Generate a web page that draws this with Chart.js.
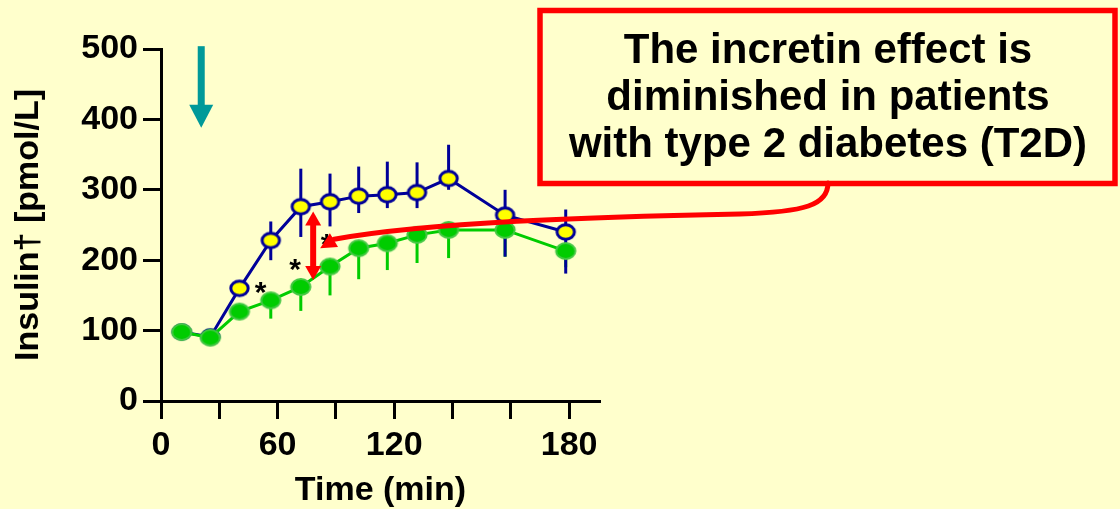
<!DOCTYPE html>
<html>
<head>
<meta charset="utf-8">
<script src="https://cdn.jsdelivr.net/npm/chart.js@4"></script>
<style>
  html, body { margin: 0; padding: 0; background: #ffffcc; }
  #wrap { width: 1120px; height: 509px; }
</style>
</head>
<body>
<div id="wrap"><canvas id="insulin-chart" width="1120" height="509"></canvas></div>
<script>
// posicion de cada muestra sobre el eje de tiempo (en intervalos de marca; el eje original no esta a escala)
const sampleX = [0.355, 0.846, 1.346, 1.883, 2.398, 2.899, 3.391, 3.882, 4.392, 4.933, 5.902, 6.942];

// glucosa oral (circulos amarillos)
const oralInsulin = [98, 91, 160, 228, 276, 283, 291, 293, 296, 316, 264, 240];
const oralHigh = [98, 91, 166, 255, 330, 323, 333, 340, 339, 364, 300, 272];
const oralLow = [98, 91, 154, 200, 233, 248, 267, 274, 274, 300, 205, 181];

// glucosa intravenosa (circulos verdes)
const ivInsulin = [98, 90, 127, 143, 162, 191, 217, 224, 236, 243, 243, 213];
const ivLow = [98, 90, 120, 117, 128, 150, 173, 186, 196, 203, 205, 190];

// marcas de los ejes
const xTickPos = [0, 1, 2, 3, 4, 5, 6, 7];
const xTickLabels = ['0', '', '60', '', '120', '', '', '180'];
const yTicks = [0, 100, 200, 300, 400, 500];

// asteriscos de significancia
const starX = [1.71, 2.30, 2.84];
const starY = [165, 198, 233];

const boxLines = ['The incretin effect is', 'diminished in patients', 'with type 2 diabetes (T2D)'];

const NAVY = '#000099';
const GREEN = '#00cc00';
const RED = '#ff0000';
const FONT = 'Arial, "Liberation Sans", sans-serif';

// marcador eliptico (el circulo de Chart.js es redondo)
function ellipseMarker(rx, ry, fill, stroke, lw) {
  const c = document.createElement('canvas');
  c.width = Math.ceil(rx * 2 + lw + 2);
  c.height = Math.ceil(ry * 2 + lw + 2);
  const ctx = c.getContext('2d');
  ctx.beginPath();
  ctx.ellipse(c.width / 2, c.height / 2, rx, ry, 0, 0, Math.PI * 2);
  ctx.fillStyle = fill;
  ctx.fill();
  ctx.lineWidth = lw;
  ctx.strokeStyle = stroke;
  ctx.stroke();
  return c;
}

const yellowDot = ellipseMarker(8.7, 7.2, '#ffff00', NAVY, 3);
const greenDot = ellipseMarker(9.6, 7.9, GREEN, '#44c844', 2);

function toPoints(ys) {
  return sampleX.map(function(x, i) { return { x: x, y: ys[i] }; });
}

function arrowHead(ctx, tipX, tipY, angle, len, half) {
  ctx.save();
  ctx.translate(tipX, tipY);
  ctx.rotate(angle);
  ctx.beginPath();
  ctx.moveTo(0, 0);
  ctx.lineTo(-len, -half);
  ctx.lineTo(-len, half);
  ctx.closePath();
  ctx.fill();
  ctx.restore();
}

const overlay = {
  id: 'overlay',
  beforeDatasetsDraw(chart) {
    const ctx = chart.ctx;
    const xs = chart.scales.x, ys = chart.scales.y;
    ctx.save();
    ctx.lineWidth = 3;
    // barras de error de la curva verde (solo hacia abajo)
    ctx.strokeStyle = GREEN;
    sampleX.forEach(function(x, i) {
      const px = xs.getPixelForValue(x);
      ctx.beginPath();
      ctx.moveTo(px, ys.getPixelForValue(ivInsulin[i]));
      ctx.lineTo(px, ys.getPixelForValue(ivLow[i]));
      ctx.stroke();
    });
    // barras de error de la curva azul
    ctx.strokeStyle = NAVY;
    sampleX.forEach(function(x, i) {
      const px = xs.getPixelForValue(x);
      ctx.beginPath();
      ctx.moveTo(px, ys.getPixelForValue(oralHigh[i]));
      ctx.lineTo(px, ys.getPixelForValue(oralLow[i]));
      ctx.stroke();
    });
    ctx.restore();
  },
  afterDatasetsDraw(chart) {
    const ctx = chart.ctx;
    const xs = chart.scales.x, ys = chart.scales.y;
    ctx.save();

    // asteriscos
    ctx.fillStyle = '#000';
    ctx.font = 'bold 30px ' + FONT;
    ctx.textAlign = 'center';
    ctx.textBaseline = 'alphabetic';
    starX.forEach(function(x, i) {
      ctx.fillText('*', xs.getPixelForValue(x), ys.getPixelForValue(starY[i]) + 17);
    });

    // flecha verde azulada (ingesta de glucosa)
    const ax = xs.getPixelForValue(0.69);
    const aTop = ys.getPixelForValue(504);
    const aTip = ys.getPixelForValue(388);
    ctx.fillStyle = '#009999';
    ctx.fillRect(ax - 3.5, aTop, 7, aTip - aTop - 22);
    ctx.beginPath();
    ctx.moveTo(ax - 12, aTip - 23);
    ctx.lineTo(ax + 12, aTip - 23);
    ctx.lineTo(ax, aTip);
    ctx.closePath();
    ctx.fill();

    // flecha doble roja entre las curvas
    const dx = xs.getPixelForValue(2.61);
    const dTop = ys.getPixelForValue(269);
    const dBot = ys.getPixelForValue(172);
    ctx.fillStyle = RED;
    ctx.strokeStyle = RED;
    ctx.lineWidth = 6;
    ctx.beginPath();
    ctx.moveTo(dx, dTop + 10);
    ctx.lineTo(dx, dBot - 10);
    ctx.stroke();
    arrowHead(ctx, dx, dTop, -Math.PI / 2, 14, 8);
    arrowHead(ctx, dx, dBot, Math.PI / 2, 14, 8);

    // flecha curva desde el recuadro
    const tipX = xs.getPixelForValue(2.73);
    const tipY = ys.getPixelForValue(217);
    ctx.lineWidth = 5;
    ctx.lineCap = 'round';
    ctx.beginPath();
    ctx.moveTo(828, 183);
    ctx.bezierCurveTo(828, 205, 805, 212, 740, 214);
    ctx.bezierCurveTo(590, 217, 430, 222, tipX + 14, tipY - 9);
    ctx.stroke();
    arrowHead(ctx, tipX, tipY, Math.atan2(10, -17), 16, 8);

    // recuadro con el mensaje
    ctx.lineWidth = 5.5;
    ctx.lineCap = 'butt';
    ctx.strokeRect(540, 10.5, 575, 173);
    ctx.fillStyle = '#000';
    ctx.font = 'bold 42px ' + FONT;
    ctx.textAlign = 'center';
    ctx.textBaseline = 'alphabetic';
    const baselines = [63, 110, 157];
    boxLines.forEach(function(t, i) {
      ctx.fillText(t, 828, baselines[i]);
    });
    ctx.restore();
  }
};

const tickFont = { family: FONT, size: 34, weight: 'bold' };
const titleFont = { family: FONT, size: 34, weight: 'bold' };

new Chart(document.getElementById('insulin-chart'), {
  type: 'line',
  data: {
    datasets: [
      {
        label: 'IV',
        data: toPoints(ivInsulin),
        borderColor: GREEN,
        borderWidth: 3,
        pointStyle: greenDot,
        tension: 0,
        order: 0
      },
      {
        label: 'Oral',
        data: toPoints(oralInsulin),
        borderColor: NAVY,
        borderWidth: 3,
        pointStyle: yellowDot,
        tension: 0,
        order: 1
      }
    ]
  },
  options: {
    responsive: false,
    animation: false,
    clip: false,
    layout: { padding: { left: 0, right: 520, top: 49, bottom: 0 } },
    plugins: {
      legend: { display: false },
      tooltip: { enabled: false }
    },
    scales: {
      x: {
        type: 'linear',
        min: 0,
        max: 7.53,
        afterBuildTicks: function(s) { s.ticks = xTickPos.map(function(v) { return { value: v }; }); },
        afterFit: function(s) { s.height = 108; },
        ticks: {
          autoSkip: false,
          maxRotation: 0,
          color: '#000',
          font: tickFont,
          padding: 6,
          callback: function(v, i) { return xTickLabels[i]; }
        },
        grid: { drawOnChartArea: false, drawTicks: true, tickLength: 18, tickWidth: 3, tickColor: '#000' },
        border: { display: true, width: 3, color: '#000' },
        title: { display: true, text: 'Time (min)', color: '#000', font: titleFont, padding: { top: 0, bottom: -2 } }
      },
      y: {
        min: 0,
        max: 500,
        afterBuildTicks: function(s) { s.ticks = yTicks.map(function(v) { return { value: v }; }); },
        afterFit: function(s) { s.width = 161; },
        ticks: {
          color: '#000',
          font: tickFont,
          padding: 5
        },
        grid: { drawOnChartArea: false, drawTicks: true, tickLength: 18, tickWidth: 3, tickColor: '#000' },
        border: { display: true, width: 3, color: '#000' },
        title: { display: true, text: 'Insulin\u2020 [pmol/L]', color: '#000', font: titleFont, padding: { top: 8, bottom: 0 } }
      }
    }
  },
  plugins: [overlay]
});
</script>
</body>
</html>
